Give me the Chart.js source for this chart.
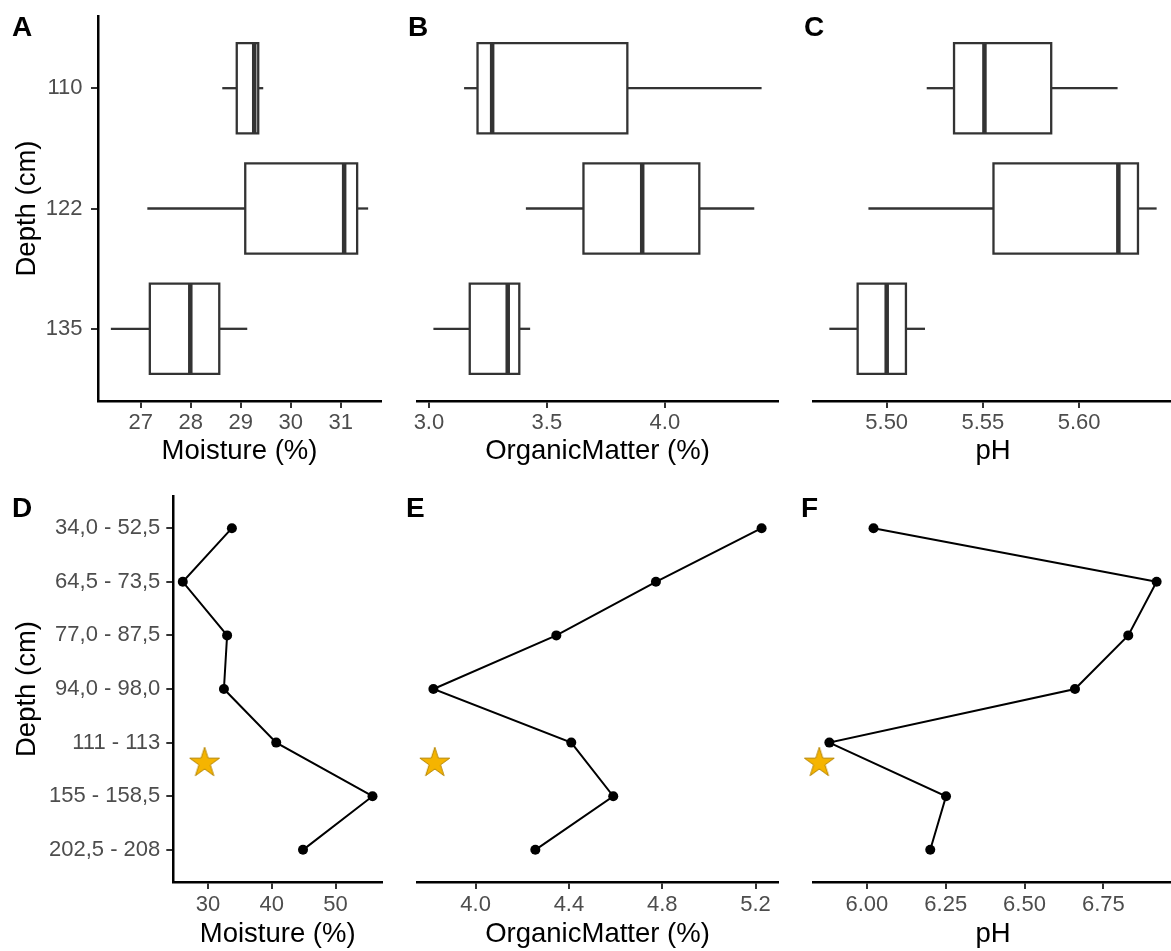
<!DOCTYPE html>
<html><head><meta charset="utf-8">
<script src="https://cdn.jsdelivr.net/npm/chart.js@4.4.1/dist/chart.umd.min.js"></script>
<style>
html,body{margin:0;padding:0;background:#fff;width:1171px;height:951px;overflow:hidden;position:relative;}
canvas{position:absolute;}
.tag{position:absolute;font-family:"Liberation Sans",Arial,sans-serif;font-weight:bold;font-size:28px;line-height:28px;color:#000;}
</style></head><body>
<canvas id="cA"></canvas><canvas id="cB"></canvas><canvas id="cC"></canvas>
<canvas id="cD"></canvas><canvas id="cE"></canvas><canvas id="cF"></canvas>
<div class="tag" style="left:12px;top:13px">A</div>
<div class="tag" style="left:408px;top:13px">B</div>
<div class="tag" style="left:804px;top:13px">C</div>
<div class="tag" style="left:12px;top:494px">D</div>
<div class="tag" style="left:406px;top:494px">E</div>
<div class="tag" style="left:801px;top:494px">F</div>
<script>
// ---------- data ----------
const boxDepths = ['110', '122', '135'];

const moistureMin    = [28.63, 27.13, 26.40];
const moistureQ1     = [28.92, 29.09, 27.18];
const moistureMedian = [29.27, 31.07, 27.99];
const moistureQ3     = [29.35, 31.33, 28.57];
const moistureMax    = [29.45, 31.55, 29.13];

const organicMin    = [3.149, 3.411, 3.019];
const organicQ1     = [3.206, 3.655, 3.173];
const organicMedian = [3.268, 3.904, 3.334];
const organicQ3     = [3.841, 4.146, 3.383];
const organicMax    = [4.410, 4.379, 3.429];

const phMin    = [5.5208, 5.4905, 5.4702];
const phQ1     = [5.5350, 5.5555, 5.4849];
const phMedian = [5.5508, 5.6204, 5.5000];
const phQ3     = [5.5855, 5.6306, 5.5100];
const phMax    = [5.6200, 5.6403, 5.5199];

const profileDepths = ['34,0 - 52,5', '64,5 - 73,5', '77,0 - 87,5', '94,0 - 98,0', '111 - 113', '155 - 158,5', '202,5 - 208'];
const profileMoisture = [33.75, 26.05, 33.0, 32.5, 40.7, 55.8, 44.9];
const profileOrganic  = [5.226, 4.773, 4.346, 3.819, 4.410, 4.590, 4.256];
const profilePH       = [6.021, 6.919, 6.829, 6.660, 5.881, 6.251, 6.201];

const starDepthPos = 4.38;
const starMoisture = 29.47;
const starOrganic  = 3.825;
const starPH       = 5.849;

const ticksMoistureBox = [27, 28, 29, 30, 31];
const labelsMoistureBox = ['27', '28', '29', '30', '31'];
const ticksOrganicBox = [3.0, 3.5, 4.0];
const labelsOrganicBox = ['3.0', '3.5', '4.0'];
const ticksPHBox = [5.50, 5.55, 5.60];
const labelsPHBox = ['5.50', '5.55', '5.60'];
const ticksMoistureProf = [30, 40, 50];
const labelsMoistureProf = ['30', '40', '50'];
const ticksOrganicProf = [4.0, 4.4, 4.8, 5.2];
const labelsOrganicProf = ['4.0', '4.4', '4.8', '5.2'];
const ticksPHProf = [6.00, 6.25, 6.50, 6.75];
const labelsPHProf = ['6.00', '6.25', '6.50', '6.75'];

// ---------- styles ----------
const FONT = '"Liberation Sans", Arial, sans-serif';
Chart.defaults.font.family = FONT;
const TICK_COLOR = '#4D4D4D';
const BOX_COLOR = '#333333';

function expand(vals) {
  const lo = Math.min(...vals), hi = Math.max(...vals), d = (hi - lo) * 0.05;
  return [lo - d, hi + d];
}

function starImage() {
  const c = document.createElement('canvas');
  c.width = 36; c.height = 36;
  const g = c.getContext('2d');
  const R = 15.7, r = R * 0.382, cx = 18, cy = 18;
  g.beginPath();
  for (let k = 0; k < 10; k++) {
    const a = -Math.PI / 2 + k * Math.PI / 5;
    const rad = k % 2 === 0 ? R : r;
    const px = cx + rad * Math.cos(a), py = cy + rad * Math.sin(a);
    if (k === 0) g.moveTo(px, py); else g.lineTo(px, py);
  }
  g.closePath();
  g.fillStyle = '#F5B400';
  g.fill();
  g.lineWidth = 1;
  g.strokeStyle = '#B88600';
  g.stroke();
  return c;
}
const STAR = starImage();

function xScale(range, ticks, labels, title, Hx, tickPad) {
  return {
    type: 'linear', position: 'bottom', min: range[0], max: range[1],
    afterBuildTicks: s => { s.ticks = ticks.map(v => ({value: v})); },
    afterFit: s => { s.height = Hx; s.paddingLeft = 0; s.paddingRight = 0; },
    ticks: {autoSkip: false, maxRotation: 0, minRotation: 0, padding: tickPad, color: TICK_COLOR,
            font: {size: 22}, callback: (v, i) => labels[i]},
    grid: {display: true, drawOnChartArea: false, drawTicks: true, tickLength: 7, tickWidth: 2,
           tickColor: '#333333', lineWidth: 2},
    border: {display: true, color: '#000', width: 2.5},
    title: {display: true, text: title, color: '#000', font: {size: 27.5}, padding: 0}
  };
}

function yScale(labels, show, Wy, tickPad) {
  const s = {
    type: 'linear', position: 'left', reverse: true,
    min: -0.6, max: labels.length - 1 + 0.6,
    display: show,
    afterBuildTicks: sc => { sc.ticks = labels.map((_, i) => ({value: i})); },
    ticks: {autoSkip: false, padding: tickPad || 6, color: TICK_COLOR, font: {size: 22}, callback: (v, i) => labels[i]},
    grid: {display: true, drawOnChartArea: false, drawTicks: true, tickLength: 7, tickWidth: 2,
           tickColor: '#333333', lineWidth: 2},
    border: {display: true, color: '#000', width: 2.5},
    title: {display: true, text: 'Depth (cm)', color: '#000', font: {size: 27.5}, padding: 0}
  };
  if (show) s.afterFit = sc => { sc.width = Wy; sc.paddingTop = 0; sc.paddingBottom = 0; };
  return s;
}

function seg(data, width, cap) {
  return {data, showLine: true, borderColor: BOX_COLOR, borderWidth: width, pointRadius: 0,
          borderCapStyle: cap || 'butt', borderJoinStyle: 'miter', fill: false, tension: 0};
}

function boxDatasets(mn, q1, med, q3, mx) {
  const h = 0.375;
  const ds = [];
  mn.forEach((_, i) => {
    ds.push(seg([{x: med[i], y: i - h}, {x: med[i], y: i + h}], 4.5));
    ds.push(seg([{x: q1[i], y: i - h}, {x: q3[i], y: i - h}, {x: q3[i], y: i + h},
                 {x: q1[i], y: i + h}, {x: q1[i], y: i - h}], 2.3, 'square'));
    ds.push(seg([{x: mn[i], y: i}, {x: q1[i], y: i}], 2.3));
    ds.push(seg([{x: q3[i], y: i}, {x: mx[i], y: i}], 2.3));
  });
  return ds;
}

function profileDatasets(vals, starX) {
  return [
    {data: [{x: starX, y: starDepthPos}], pointStyle: STAR, pointRadius: 16, showLine: false, clip: false},
    {data: vals.map((v, i) => ({x: v, y: i})), showLine: true, borderColor: '#000', borderWidth: 2,
     pointRadius: 5, pointBackgroundColor: '#000', pointBorderWidth: 0, tension: 0}
  ];
}

function place(id, g) {
  const c = document.getElementById(id);
  c.width = g.cw; c.height = g.ch;
  c.style.left = g.cx + 'px'; c.style.top = g.cy + 'px';
  c.style.width = g.cw + 'px'; c.style.height = g.ch + 'px';
  return c;
}

const Y_TITLE_LEFT = 11;

function makeChart(id, g, datasets, xs, ys) {
  const c = place(id, g);
  const showY = ys.display;
  const pad = {
    left: showY ? Y_TITLE_LEFT : g.L - g.cx,
    top: g.T - g.cy,
    right: g.cx + g.cw - g.R,
    bottom: g.cy + g.ch - g.B - g.Hx
  };
  new Chart(c, {
    type: 'scatter',
    data: {datasets},
    options: {
      responsive: false, animation: false, devicePixelRatio: 1, events: [],
      layout: {padding: pad, autoPadding: false},
      plugins: {legend: {display: false}, tooltip: {enabled: false}},
      scales: {x: xs, y: ys}
    }
  });
}

// geometry (page px)
const row1 = {cy: 0, ch: 480, T: 16, B: 401, Hx: 66.5};
const row2 = {cy: 480, ch: 471, T: 496, B: 882, Hx: 69};
const colA = {cx: 0, cw: 395, R: 381};
const colB = {cx: 395, cw: 395, L: 417, R: 778};
const colC = {cx: 790, cw: 390, L: 813, R: 1173};

// A
makeChart('cA', Object.assign({}, row1, colA, {L: 98}),
  boxDatasets(moistureMin, moistureQ1, moistureMedian, moistureQ3, moistureMax),
  xScale(expand(moistureMin.concat(moistureMax)), ticksMoistureBox, labelsMoistureBox, 'Moisture (%)', row1.Hx, 2),
  yScale(boxDepths, true, 98 - Y_TITLE_LEFT, 8.5));
// B
makeChart('cB', Object.assign({}, row1, colB),
  boxDatasets(organicMin, organicQ1, organicMedian, organicQ3, organicMax),
  xScale(expand(organicMin.concat(organicMax)), ticksOrganicBox, labelsOrganicBox, 'OrganicMatter (%)', row1.Hx, 2),
  yScale(boxDepths, false));
// C
makeChart('cC', Object.assign({}, row1, colC),
  boxDatasets(phMin, phQ1, phMedian, phQ3, phMax),
  xScale(expand(phMin.concat(phMax)), ticksPHBox, labelsPHBox, 'pH', row1.Hx, 2),
  yScale(boxDepths, false));
// D
makeChart('cD', Object.assign({}, row2, colA, {L: 173.3, R: 382}),
  profileDatasets(profileMoisture, starMoisture),
  xScale(expand(profileMoisture), ticksMoistureProf, labelsMoistureProf, 'Moisture (%)', row2.Hx, 3),
  yScale(profileDepths, true, 173.3 - Y_TITLE_LEFT, 6));
// E
makeChart('cE', Object.assign({}, row2, colB),
  profileDatasets(profileOrganic, starOrganic),
  xScale(expand(profileOrganic), ticksOrganicProf, labelsOrganicProf, 'OrganicMatter (%)', row2.Hx, 3),
  yScale(profileDepths, false));
// F
makeChart('cF', Object.assign({}, row2, colC),
  profileDatasets(profilePH, starPH),
  xScale(expand(profilePH), ticksPHProf, labelsPHProf, 'pH', row2.Hx, 3),
  yScale(profileDepths, false));
</script>
</body></html>
